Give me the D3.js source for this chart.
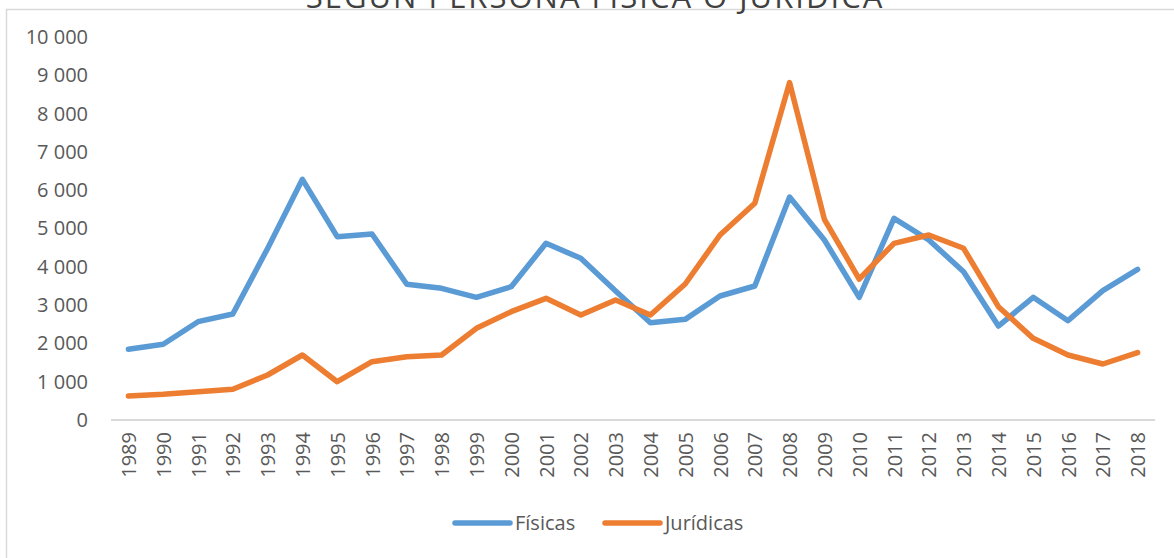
<!DOCTYPE html>
<html>
<head>
<meta charset="utf-8">
<script src="https://cdn.jsdelivr.net/npm/d3@7"></script>
<style>
  body { margin: 0; background: #fff; }
  svg { display: block; font-family: "Open Sans", sans-serif; }
</style>
</head>
<body>
<div id="chart"></div>
<script>
// Data
const years = ["1989", "1990", "1991", "1992", "1993", "1994", "1995", "1996", "1997", "1998",
  "1999", "2000", "2001", "2002", "2003", "2004", "2005", "2006", "2007", "2008",
  "2009", "2010", "2011", "2012", "2013", "2014", "2015", "2016", "2017", "2018"];
const fisicas = [1846, 1976, 2567, 2768, 4480, 6284, 4786, 4856, 3543, 3438,
  3203, 3481, 4613, 4221, 3370, 2541, 2628, 3238, 3499, 5820,
  4700, 3203, 5266, 4700, 3873, 2454, 3203, 2593, 3377, 3934];
const juridicas = [627, 670, 740, 801, 1175, 1697, 1000, 1523, 1653, 1697,
  2394, 2828, 3177, 2741, 3133, 2741, 3551, 4830, 5657, 8810,
  5240, 3681, 4613, 4830, 4483, 2959, 2132, 1697, 1462, 1758];
const yTicks = [0, 1000, 2000, 3000, 4000, 5000, 6000, 7000, 8000, 9000, 10000];
const seriesNames = ["Físicas", "Jurídicas"];
const titleText = "SEGÚN PERSONA FÍSICA O JURÍDICA";

const width = 1174;
const height = 558;
const colors = ["#5B9BD5", "#ED7D31"];

const svg = d3.select("#chart")
  .append("svg")
  .attr("width", width)
  .attr("height", height);

// Chart border
svg.append("rect")
  .attr("x", 6.5)
  .attr("y", 9.5)
  .attr("width", width + 10)
  .attr("height", height + 10)
  .attr("fill", "none")
  .attr("stroke", "#D9D9D9")
  .attr("stroke-width", 1.5);

// Title, mostly cut off at the top (as in the source)
svg.append("text")
  .attr("x", 595)
  .attr("y", 8)
  .attr("text-anchor", "middle")
  .attr("font-size", 31)
  .attr("letter-spacing", 2)
  .attr("fill", "#404040")
  .text(titleText);

// Scales
const x = d3.scalePoint()
  .domain(years)
  .range([111, 1155])
  .padding(0.5);
const y = d3.scaleLinear()
  .domain([0, 10000])
  .range([420, 37]);

const fmt = d3.formatLocale({ decimal: ",", thousands: " ", grouping: [3], currency: ["", ""] }).format(",d");

// Y axis (labels only)
const yAxis = svg.append("g")
  .attr("transform", "translate(111,0)")
  .call(d3.axisLeft(y).tickValues(yTicks).tickFormat(fmt).tickSize(0).tickPadding(23));
yAxis.select(".domain").remove();
yAxis.selectAll("text")
  .attr("font-family", "Open Sans, sans-serif")
  .attr("font-size", 20)
  .attr("fill", "#595959");

// X axis
const xAxis = svg.append("g")
  .attr("transform", "translate(0," + y(0) + ")")
  .call(d3.axisBottom(x).tickSize(0).tickPadding(0));
xAxis.select(".domain")
  .attr("d", "M111,0H1155")
  .attr("stroke", "#D9D9D9")
  .attr("stroke-width", 2);
xAxis.selectAll("text")
  .attr("font-family", "Open Sans, sans-serif")
  .attr("font-size", 20)
  .attr("fill", "#595959")
  .attr("transform", "rotate(-90)")
  .attr("text-anchor", "end")
  .attr("x", -12)
  .attr("y", 0)
  .attr("dy", "0.35em");

// Lines
const line = d3.line()
  .x((d, i) => x(years[i]))
  .y(d => y(d));

[fisicas, juridicas].forEach((series, k) => {
  svg.append("path")
    .datum(series)
    .attr("fill", "none")
    .attr("stroke", colors[k])
    .attr("stroke-width", 5.5)
    .attr("stroke-linejoin", "round")
    .attr("stroke-linecap", "round")
    .attr("d", line);
});

// Legend
const legendX = [455, 605];
seriesNames.forEach((name, k) => {
  const g = svg.append("g").attr("transform", "translate(" + legendX[k] + ",523)");
  g.append("line")
    .attr("x1", 0).attr("x2", 55)
    .attr("stroke", colors[k])
    .attr("stroke-width", 5.5)
    .attr("stroke-linecap", "round");
  g.append("text")
    .attr("x", 60)
    .attr("dy", "0.35em")
    .attr("font-size", 20)
    .attr("fill", "#595959")
    .text(name);
});
</script>
</body>
</html>
